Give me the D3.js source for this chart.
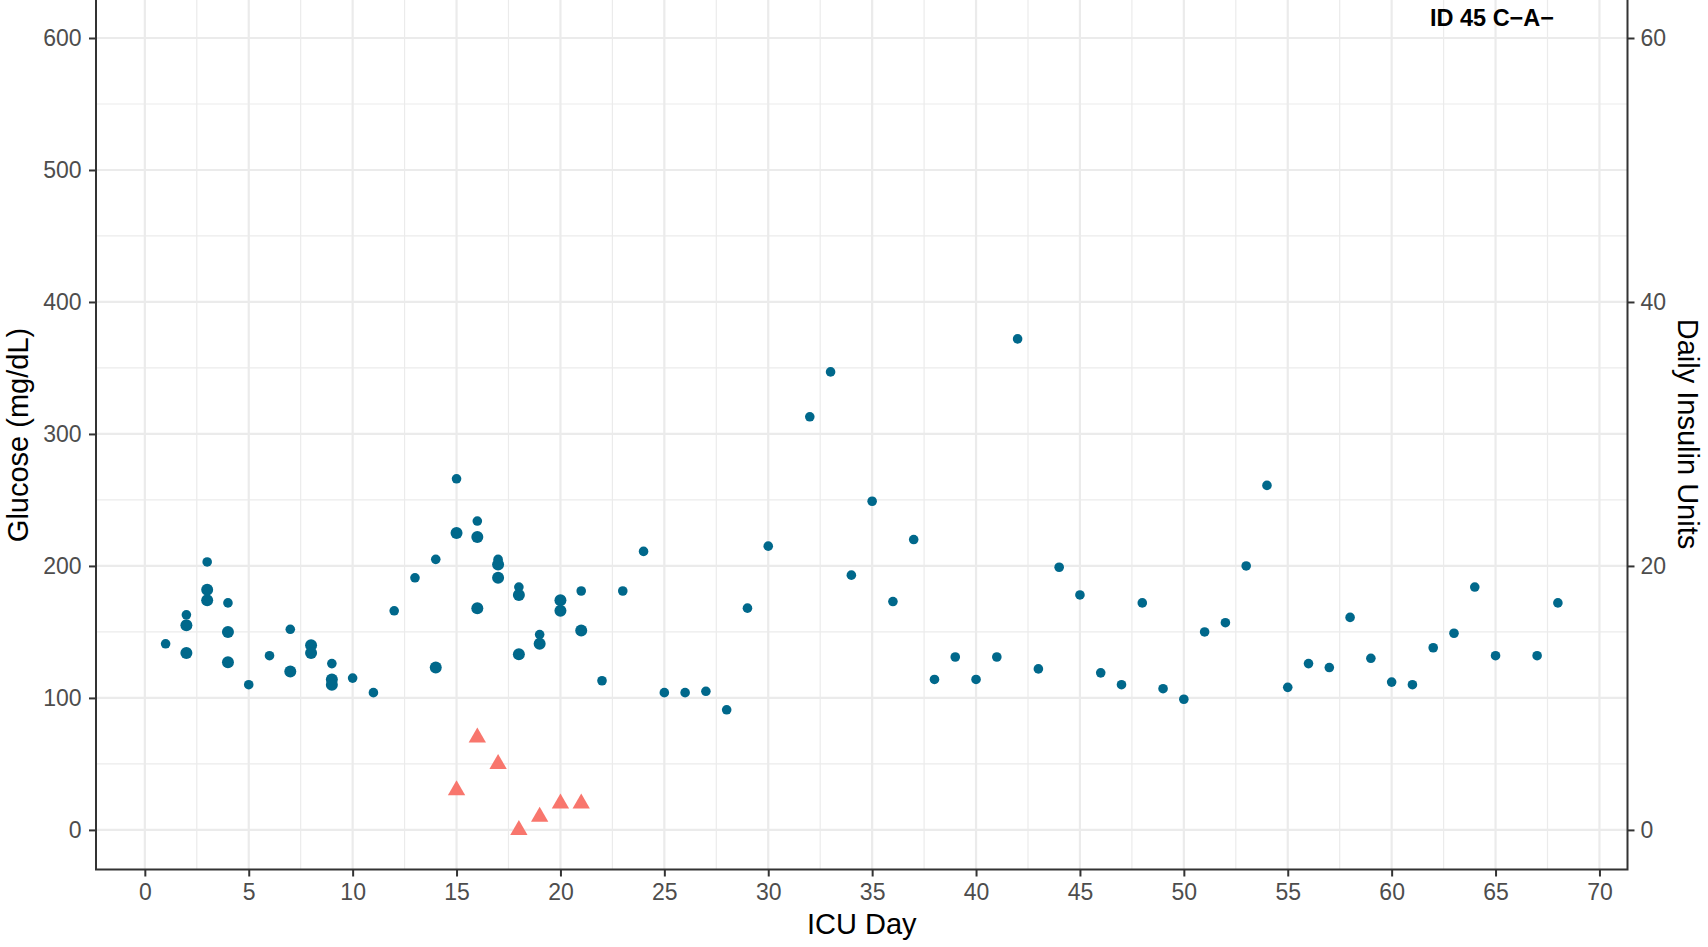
<!DOCTYPE html>
<html>
<head>
<meta charset="utf-8">
<script src="https://cdn.jsdelivr.net/npm/d3@7"></script>
<style>
  html, body { margin: 0; padding: 0; background: #ffffff; }
  svg { display: block; }
  text { font-family: "Liberation Sans", Arial, Helvetica, sans-serif; }
</style>
</head>
<body>
<svg id="chart" width="1708" height="947"></svg>
<script>
// ---- data ----
const glucoseDays = [
  1,
  2, 2, 2,
  3, 3, 3,
  4, 4, 4,
  5, 6,
  7, 7,
  8, 8,
  9, 9, 9,
  10, 11, 12, 13,
  14, 14,
  15, 15,
  16, 16, 16,
  17, 17, 17,
  18, 18, 18,
  19, 19,
  20, 20,
  21, 21,
  22, 23, 24, 25, 26, 27, 28, 29, 30,
  32, 33, 34, 35, 36, 37, 38, 39, 40, 41, 42, 43, 44, 45, 46, 47, 48, 49, 50,
  51, 52, 53, 54, 55, 56, 57, 58, 59, 60, 61, 62, 63, 64, 65, 67, 68
];
const glucoseValues = [
  141,
  163, 155, 134,
  203, 182, 174,
  172, 150, 127,
  110, 132,
  152, 120,
  140, 134,
  126, 114, 110,
  115, 104, 166, 191,
  205, 123,
  266, 225,
  234, 222, 168,
  205, 201, 191,
  184, 178, 133,
  148, 141,
  174, 166,
  181, 151,
  113, 181, 211, 104, 104, 105, 91, 168, 215,
  313, 347, 193, 249, 173, 220, 114, 131, 114, 131, 372, 122, 199, 178, 119, 110, 172, 107, 99,
  150, 157, 200, 261, 108, 126, 123, 161, 130, 112, 110, 138, 149, 184, 132, 132, 172
];
// number of readings stacked at the same spot (2 = drawn larger)
const glucoseCounts = [
  1,
  1, 2, 2,
  1, 2, 2,
  1, 2, 2,
  1, 1,
  1, 2,
  2, 2,
  1, 2, 2,
  1, 1, 1, 1,
  1, 2,
  1, 2,
  1, 2, 2,
  1, 2, 2,
  1, 2, 2,
  1, 2,
  2, 2,
  1, 2,
  1, 1, 1, 1, 1, 1, 1, 1, 1,
  1, 1, 1, 1, 1, 1, 1, 1, 1, 1, 1, 1, 1, 1, 1, 1, 1, 1, 1,
  1, 1, 1, 1, 1, 1, 1, 1, 1, 1, 1, 1, 1, 1, 1, 1, 1
];
const insulinDays  = [15, 16, 17, 18, 19, 20, 21];
const insulinUnits = [3, 7, 5, 0, 1, 2, 2];

const xTicks  = [0, 5, 10, 15, 20, 25, 30, 35, 40, 45, 50, 55, 60, 65, 70];
const xMinor  = [2.5, 7.5, 12.5, 17.5, 22.5, 27.5, 32.5, 37.5, 42.5, 47.5, 52.5, 57.5, 62.5, 67.5];
const yTicks  = [0, 100, 200, 300, 400, 500, 600];
const yMinor  = [50, 150, 250, 350, 450, 550];
const y2Ticks = [0, 20, 40, 60];

const titleText = "ID 45 C\u2212A\u2212";
const xTitle = "ICU Day";
const yTitle = "Glucose (mg/dL)";
const y2Title = "Daily Insulin Units";

// ---- layout ----
const svg = d3.select("#chart");
const L = 96, R = 1627.5, B = 869.5, T = -1.6;

const x  = d3.scaleLinear().domain([-2.35, 71.35]).range([L, R]);
const y  = d3.scaleLinear().domain([-30, 630]).range([B, T]);
const y2 = d3.scaleLinear().domain([-3, 63]).range([B, T]);

svg.append("rect").attr("x", 0).attr("y", 0).attr("width", 1708).attr("height", 947).attr("fill", "#ffffff");

const grid = svg.append("g");
// minor grid
grid.selectAll(".vminor").data(xMinor).enter().append("line")
  .attr("x1", d => x(d)).attr("x2", d => x(d)).attr("y1", -5).attr("y2", B)
  .attr("stroke", "#EBEBEB").attr("stroke-width", 1.2);
grid.selectAll(".hminor").data(yMinor).enter().append("line")
  .attr("x1", L).attr("x2", R).attr("y1", d => y(d)).attr("y2", d => y(d))
  .attr("stroke", "#EBEBEB").attr("stroke-width", 1.2);
// major grid
grid.selectAll(".vmajor").data(xTicks).enter().append("line")
  .attr("x1", d => x(d)).attr("x2", d => x(d)).attr("y1", -5).attr("y2", B)
  .attr("stroke", "#EBEBEB").attr("stroke-width", 2.2);
grid.selectAll(".hmajor").data(yTicks).enter().append("line")
  .attr("x1", L).attr("x2", R).attr("y1", d => y(d)).attr("y2", d => y(d))
  .attr("stroke", "#EBEBEB").attr("stroke-width", 2.2);

// ---- marks ----
const glucose = glucoseDays.map((d, i) => ({ day: d, val: glucoseValues[i], n: glucoseCounts[i] }));
const insulin = insulinDays.map((d, i) => ({ day: d, units: insulinUnits[i] }));

svg.append("g").selectAll("circle").data(glucose).enter().append("circle")
  .attr("cx", d => x(d.day)).attr("cy", d => y(d.val))
  .attr("r", d => d.n > 1 ? 6 : 4.8)
  .attr("fill", "#00688B");

const tri = d3.symbol().type(d3.symbolTriangle).size(130);
svg.append("g").selectAll("path").data(insulin).enter().append("path")
  .attr("d", tri)
  .attr("transform", d => `translate(${x(d.day)},${y2(d.units)})`)
  .attr("fill", "#F8766D");

// ---- axes ----
function styleAxis(g) {
  g.select(".domain").remove();
  g.selectAll(".tick line").attr("stroke", "#333333").attr("stroke-width", 2);
  g.selectAll(".tick text").attr("fill", "#4D4D4D").attr("font-size", "23px")
    .attr("font-family", "'Liberation Sans', Arial, sans-serif");
}
svg.append("g").attr("transform", `translate(0,${B})`)
  .call(d3.axisBottom(x).tickValues(xTicks).tickSize(7).tickPadding(7).tickFormat(d3.format("d")))
  .call(styleAxis);
svg.append("g").attr("transform", `translate(${L},0)`)
  .call(d3.axisLeft(y).tickValues(yTicks).tickSize(7).tickPadding(7.5).tickFormat(d3.format("d")))
  .call(styleAxis);
svg.append("g").attr("transform", `translate(${R},0)`)
  .call(d3.axisRight(y2).tickValues(y2Ticks).tickSize(7).tickPadding(6).tickFormat(d3.format("d")))
  .call(styleAxis);

// panel border (left, bottom, right; top runs off the canvas)
svg.append("path")
  .attr("d", `M${L},-5 L${L},${B} L${R},${B} L${R},-5`)
  .attr("fill", "none").attr("stroke", "#333333").attr("stroke-width", 2);

// ---- titles ----
svg.append("text").attr("x", 1492).attr("y", 26).attr("text-anchor", "middle")
  .attr("font-size", "23.5px").attr("font-weight", "bold").attr("fill", "#000")
  .text(titleText);
svg.append("text").attr("x", (L + R) / 2).attr("y", 934).attr("text-anchor", "middle")
  .attr("font-size", "29px").attr("fill", "#000").text(xTitle);
svg.append("text").attr("transform", `translate(27.5,435) rotate(-90)`).attr("text-anchor", "middle")
  .attr("font-size", "29px").attr("fill", "#000").text(yTitle);
svg.append("text").attr("transform", `translate(1678,434) rotate(90)`).attr("text-anchor", "middle")
  .attr("font-size", "29px").attr("fill", "#000").text(y2Title);
</script>
</body>
</html>
